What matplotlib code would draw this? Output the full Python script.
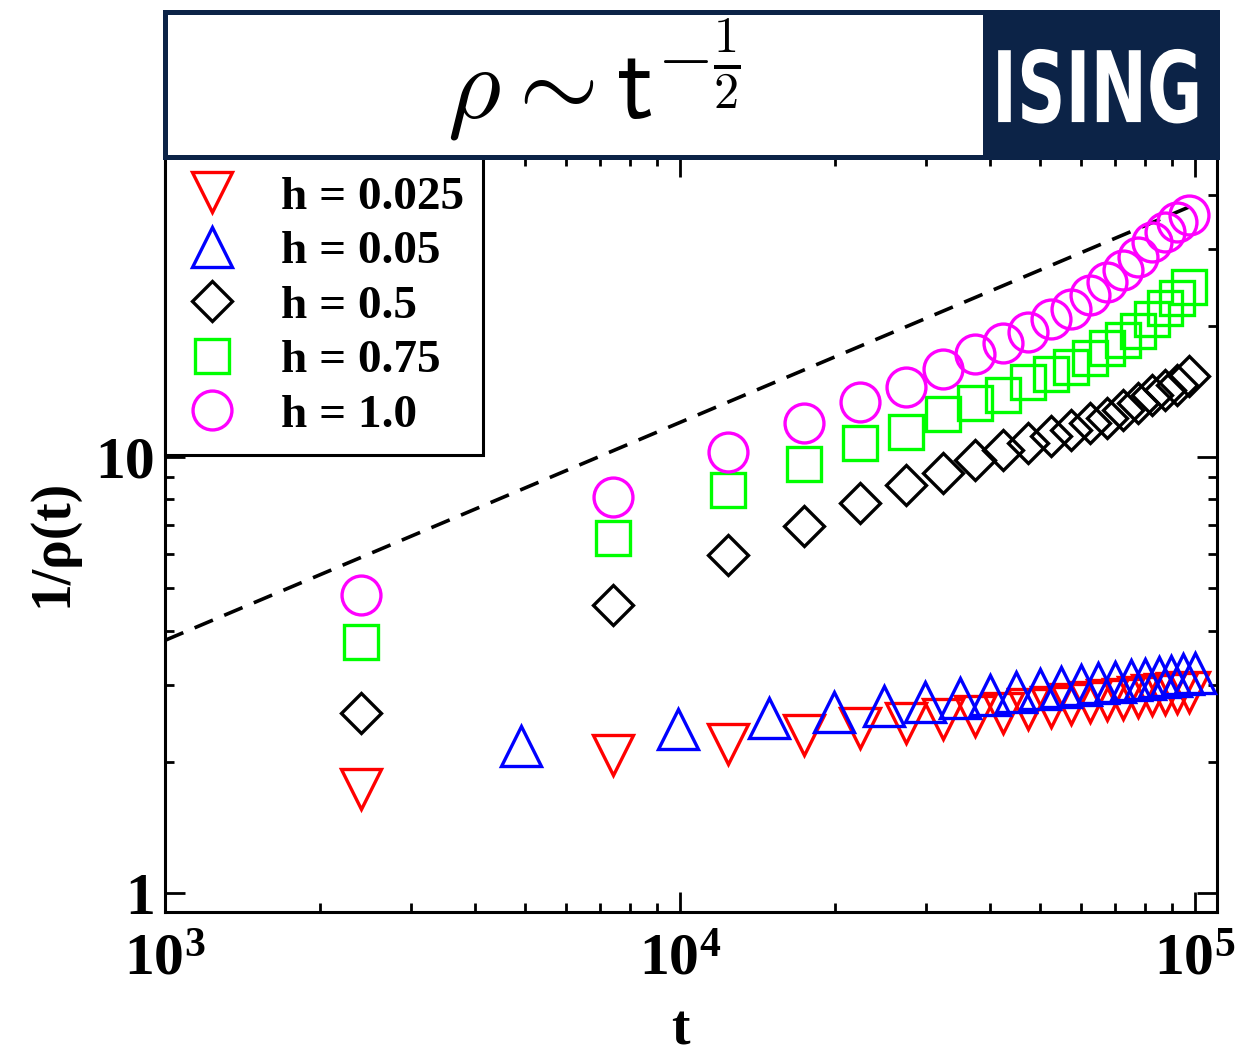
"""1/rho(t) vs t for the Ising coarsening runs, log-log, with t^(1/2) guide."""

import numpy as np
import matplotlib
matplotlib.use("Agg")
import matplotlib.pyplot as plt
from matplotlib.patches import Rectangle
from matplotlib.patheffects import AbstractPathEffect
from matplotlib.transforms import Affine2D
from matplotlib.ticker import LogLocator, NullFormatter

plt.rcParams["font.family"] = ["Liberation Serif", "DejaVu Serif"]
plt.rcParams["font.weight"] = "bold"
plt.rcParams["mathtext.fontset"] = "custom"
plt.rcParams["mathtext.rm"] = "Liberation Serif:bold"
plt.rcParams["mathtext.bf"] = "Liberation Serif:bold"

NAVY = "#0c2347"

# sampling times (odd set: h=0.025, 0.5, 0.75, 1.0 ; even set: h=0.05)
t_odd  = [2400, 7400, 12400, 17400, 22400, 27400, 32400, 37400, 42400, 47400,
          52400, 57400, 62400, 67400, 72400, 77400, 82400, 87400, 92400, 97400]
t_even = [4900, 9900, 14900, 19900, 24900, 29900, 34900, 39900, 44900, 49900,
          54900, 59900, 64900, 69900, 74900, 79900, 84900, 89900, 94900, 99900]

inv_rho_h0025 = [1.73, 2.07, 2.20, 2.30, 2.39, 2.45, 2.51, 2.55, 2.59, 2.65,
                 2.67, 2.72, 2.74, 2.77, 2.79, 2.82, 2.84, 2.86, 2.88, 2.89]
inv_rho_h005  = [2.17, 2.38, 2.52, 2.60, 2.69, 2.75, 2.80, 2.85, 2.89, 2.94,
                 2.97, 3.00, 3.03, 3.05, 3.09, 3.10, 3.13, 3.15, 3.18, 3.19]
inv_rho_h05   = [2.59, 4.57, 5.96, 6.94, 7.85, 8.63, 9.18, 9.84, 10.38, 10.75,
                 11.17, 11.53, 11.95, 12.33, 12.82, 13.28, 13.87, 14.25, 14.63, 15.34]
inv_rho_h075  = [3.77, 6.51, 8.40, 9.67, 10.75, 11.43, 12.55, 13.28, 13.87, 14.9,
                 15.5, 16.1, 16.9, 17.8, 18.6, 19.5, 20.8, 22.0, 23.2, 24.6]
inv_rho_h1    = [4.84, 8.11, 10.28, 11.95, 13.35, 14.45, 15.9, 17.25, 18.3, 19.4,
                 20.8, 21.9, 23.5, 25.2, 26.9, 28.8, 31.2, 32.9, 34.7, 35.9]

# guide line ~ t^(1/2)
guide_t = [1e3, 1e5]
guide_y = [3.8, 38.0]

series = [
    (t_odd,  inv_rho_h0025, "v", "#ff0000", 29, "h = 0.025"),
    (t_even, inv_rho_h005,  "^", "#0000ff", 29, "h = 0.05"),
    (t_odd,  inv_rho_h05,   "D", "#000000", 20.5, "h = 0.5"),
    (t_odd,  inv_rho_h075,  "s", "#00ff00", 24, "h = 0.75"),
    (t_odd,  inv_rho_h1,    "o", "#ff00ff", 28, "h = 1.0"),
]


class Stretch(AbstractPathEffect):
    """scale glyph outlines about the text's baseline-left corner"""
    def __init__(self, sx=1.0, sy=1.0):
        super().__init__()
        self.sx, self.sy = sx, sy

    def draw_path(self, renderer, gc, tpath, affine, rgbFace=None):
        renderer.draw_path(gc, tpath, Affine2D().scale(self.sx, self.sy) + affine, rgbFace)


fig = plt.figure(figsize=(12.37, 10.59), dpi=100)
ax = fig.add_axes([0.1334, 0.1388, 0.8505, 0.7129])

ax.plot(guide_t, guide_y, color="black", lw=2.6, linestyle=(0, (5.5, 3.4)), zorder=1)

for t, y, mk, col, ms, lab in series:
    ax.plot(t, y, linestyle="none", marker=mk, ms=ms, mfc="none",
            mec=col, mew=2.4, label=lab, zorder=3)

ax.set_xscale("log")
ax.set_yscale("log")
ax.set_xlim(1000, 110300)
ax.set_ylim(0.905, 48.8)

ax.set_xticks([1e3, 1e4, 1e5])
ax.set_xticklabels([r"$\mathbf{10^{3}}$", r"$\mathbf{10^{4}}$", r"$\mathbf{10^{5}}$"])
ax.set_yticks([1, 10])
ax.set_yticklabels(["1", "10"])
ax.xaxis.set_minor_locator(LogLocator(base=10, subs=np.arange(2, 10)))
ax.yaxis.set_minor_locator(LogLocator(base=10, subs=np.arange(2, 10)))
ax.xaxis.set_minor_formatter(NullFormatter())
ax.yaxis.set_minor_formatter(NullFormatter())

ax.tick_params(which="both", direction="in", top=True, right=True, width=2.0)
ax.tick_params(which="major", length=14.5, labelsize=43)
ax.tick_params(axis="x", which="major", pad=16)
ax.tick_params(axis="y", which="major", pad=7)
ax.tick_params(which="minor", length=6.5)
for sp in ax.spines.values():
    sp.set_linewidth(2.2)

ax.set_xlabel("t", fontsize=40, fontweight="bold", va="bottom")
ax.xaxis.set_label_coords(0.4896, -0.1915)
ax.set_ylabel("1/\u03c1(t)", fontsize=40, fontweight="bold")
ax.yaxis.set_label_coords(-0.082, 0.489)

leg = ax.legend(loc="upper left", bbox_to_anchor=(0, 1), borderaxespad=0,
                frameon=True, fancybox=False, numpoints=1,
                handlelength=1.2, handletextpad=0.85, borderpad=0.4,
                labelspacing=0.24, prop={"weight": "bold", "size": 34})
leg.get_frame().set_edgecolor("black")
leg.get_frame().set_linewidth(2.2)
leg.get_frame().set_alpha(1)
leg.set_zorder(10)

# title banner above the axes
tax = fig.add_axes([0.1334, 0.8517, 0.8505, 0.137])
tax.set_xlim(0, 1)
tax.set_ylim(0, 1)
tax.set_xticks([])
tax.set_yticks([])
for sp in tax.spines.values():
    sp.set_color(NAVY)
    sp.set_linewidth(3.6)
tax.add_patch(Rectangle((0.7776, 0), 0.2224, 1, color=NAVY, lw=0))
tax.text(0.408, 0.269, r"$\rho\sim\mathsf{t}^{-\frac{\mathsf{1}}{\mathsf{2}}}$",
         fontsize=74, ha="center", va="baseline", math_fontfamily="cm",
         color="black")
tax.text(0.786, 0.241, "ISING", fontsize=50, color="white", ha="left",
         va="baseline", family="DejaVu Sans", fontweight="bold",
         path_effects=[Stretch(0.97, 1.42)])

fig.savefig("out.png", dpi=100)
